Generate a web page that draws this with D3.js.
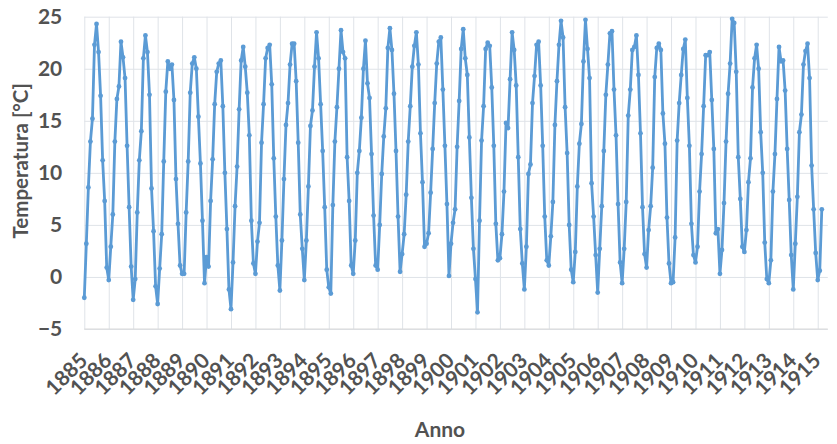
<!DOCTYPE html>
<html>
<head>
<meta charset="utf-8">
<script src="https://cdn.jsdelivr.net/npm/d3@7"></script>
<style>
  body { margin: 0; background: #fff; }
  svg { display: block; }
</style>
</head>
<body>
<div id="chart"></div>
<script>
const WIDTH = 837, HEIGHT = 444;

// monthly mean temperature, Jan 1885 .. Mar 1915
const temperature = [
  -2.0, 3.2, 8.6, 13.0, 15.2, 22.3, 24.3, 21.6, 17.4, 11.2, 7.3, 0.9,     // 1885
  -0.3, 2.9, 6.0, 13.0, 17.1, 18.3, 22.6, 21.1, 19.1, 12.6, 6.7, 1.0,     // 1886
  -2.2, -0.2, 6.2, 11.2, 14.0, 21.0, 23.2, 21.6, 17.5, 8.5, 4.4, -0.9,    // 1887
  -2.6, 0.8, 4.1, 11.1, 17.8, 20.7, 20.0, 20.4, 17.0, 9.4, 5.1, 1.1,      // 1888
  0.3, 0.3, 6.2, 11.1, 17.7, 20.5, 21.1, 20.0, 15.4, 10.9, 5.4, -0.6,     // 1889
  1.9, 1.0, 7.3, 11.3, 16.6, 19.7, 20.5, 20.8, 16.4, 10.0, 4.6, -1.2,     // 1890
  -3.1, 1.4, 6.8, 10.6, 16.1, 20.8, 22.1, 20.2, 17.7, 13.6, 5.4, 1.3,     // 1891
  0.3, 3.4, 5.2, 12.9, 16.6, 21.0, 22.0, 22.3, 18.5, 11.4, 5.8, 1.1,      // 1892
  -1.3, 3.5, 9.4, 14.6, 16.7, 20.4, 22.4, 22.4, 18.8, 12.9, 6.0, 2.7,     // 1893
  -0.3, 3.5, 8.7, 14.5, 16.0, 20.2, 23.5, 21.0, 16.6, 12.1, 6.7, 0.7,     // 1894
  -1.0, -1.6, 6.9, 13.0, 16.3, 20.0, 23.7, 21.6, 21.0, 11.5, 7.3, 1.1,    // 1895
  0.3, 3.5, 10.0, 12.1, 15.3, 20.0, 22.7, 18.6, 17.2, 11.8, 5.9, 1.1,     // 1896
  0.7, 5.0, 9.9, 13.5, 16.2, 22.0, 23.9, 21.8, 17.6, 12.1, 5.8, 0.5,      // 1897
  2.2, 4.1, 7.9, 13.0, 16.4, 20.2, 22.2, 23.5, 20.4, 13.8, 9.1, 2.9,      // 1898
  3.2, 4.2, 8.1, 12.3, 16.7, 20.5, 22.6, 23.0, 18.0, 12.6, 7.0, 0.1,      // 1899
  3.2, 5.2, 6.5, 12.5, 16.9, 21.9, 23.8, 21.0, 19.4, 13.4, 7.6, 2.7,      // 1900
  -0.2, -3.4, 5.4, 13.1, 16.4, 21.9, 22.5, 22.2, 18.2, 12.6, 5.1, 1.6,    // 1901
  1.8, 4.1, 8.2, 14.8, 14.3, 19.0, 23.5, 21.8, 18.4, 11.5, 4.6, 1.3,      // 1902
  -1.2, 2.9, 9.9, 10.8, 16.7, 19.3, 22.3, 22.6, 18.4, 12.6, 5.8, 1.6,     // 1903
  1.1, 3.9, 7.2, 14.6, 18.8, 22.3, 24.6, 23.0, 16.3, 11.9, 5.0, 0.7,      // 1904
  -0.5, 2.4, 8.7, 12.8, 14.7, 20.7, 24.7, 21.9, 19.1, 9.0, 5.8, 2.1,      // 1905
  -1.5, 2.7, 6.8, 12.1, 17.5, 20.4, 23.4, 23.6, 18.0, 13.6, 7.0, 1.4,     // 1906
  -0.6, 2.7, 7.2, 15.5, 18.0, 21.8, 22.1, 23.2, 19.4, 13.8, 6.7, 2.2,     // 1907
  0.9, 4.5, 6.8, 10.5, 19.2, 22.0, 22.4, 21.8, 15.7, 12.8, 5.7, 1.3,      // 1908
  -0.6, -0.5, 3.8, 13.1, 16.7, 19.4, 21.9, 22.8, 17.2, 12.6, 5.1, 2.1,    // 1909
  1.4, 2.9, 8.2, 11.8, 16.4, 21.3, 21.3, 21.6, 17.0, 12.3, 4.2, 4.6,      // 1910
  0.3, 2.6, 7.1, 13.0, 17.6, 20.5, 24.8, 24.4, 19.7, 11.5, 7.5, 2.9,      // 1911
  2.4, 4.5, 9.1, 11.4, 18.2, 21.0, 22.3, 20.0, 13.9, 10.0, 3.3, -0.2,     // 1912
  -0.6, 1.6, 8.2, 11.8, 17.1, 22.1, 20.7, 20.8, 17.9, 12.3, 7.4, 2.1,     // 1913
  -1.2, 3.2, 7.7, 13.9, 15.6, 20.4, 21.7, 22.4, 19.1, 10.7, 6.5, 2.3,     // 1914
  -0.3, 0.6, 6.5                                                          // 1915
];

const yearLabels = ["1885","1886","1887","1888","1889","1890","1891","1892","1893","1894",
  "1895","1896","1897","1898","1899","1900","1901","1902","1903","1904","1905","1906",
  "1907","1908","1909","1910","1911","1912","1913","1914","1915"];

const yTicks = [-5, 0, 5, 10, 15, 20, 25];

const margin = { left: 84.3, right: 15.2, top: 16.7, bottom: 115 };
const TEXT = "#525252", GRID = "#dfe3e8", LINE = "#5b9bd5";
const FONT = "Lato, 'Open Sans', sans-serif";

const svg = d3.select("#chart").append("svg")
  .attr("width", WIDTH)
  .attr("height", HEIGHT);

const x = d3.scaleLinear()
  .domain([0, temperature.length - 1])
  .range([margin.left, WIDTH - margin.right]);

const y = d3.scaleLinear()
  .domain([-5, 25])
  .range([HEIGHT - margin.bottom, margin.top]);

const yearIdx = yearLabels.map((d, i) => i * 12);

// horizontal gridlines + y labels
const yAxis = svg.append("g")
  .attr("transform", `translate(${margin.left},0)`)
  .call(d3.axisLeft(y)
    .tickValues(yTicks)
    .tickSize(-(WIDTH - margin.right - margin.left + 6))
    .tickPadding(22)
    .tickFormat(d3.format("d")));
yAxis.select(".domain").remove();
yAxis.selectAll(".tick line").attr("stroke", GRID).attr("stroke-width", 1);
yAxis.selectAll(".tick text")
  .attr("fill", TEXT)
  .style("font-family", FONT)
  .style("font-size", "21px")
  .style("font-weight", "bold");

// vertical gridlines + year labels
const xAxis = svg.append("g")
  .attr("transform", `translate(0,${y(-5)})`)
  .call(d3.axisBottom(x)
    .tickValues(yearIdx)
    .tickSize(-(y(-5) - y(25)))
    .tickFormat((d, i) => yearLabels[i]));
xAxis.select(".domain").remove();
xAxis.selectAll(".tick line").attr("stroke", GRID).attr("stroke-width", 1);
xAxis.selectAll(".tick text")
  .attr("fill", TEXT)
  .attr("y", 0)
  .attr("dy", 0)
  .attr("text-anchor", "end")
  .attr("transform", "translate(4,33) rotate(-45)")
  .style("font-family", FONT)
  .style("font-size", "21px")
  .style("font-weight", "bold");

// bottom axis line
svg.append("line")
  .attr("x1", margin.left)
  .attr("x2", WIDTH - margin.right + 6)
  .attr("y1", y(-5))
  .attr("y2", y(-5))
  .attr("stroke", "#d9d9d9")
  .attr("stroke-width", 1.2);

// series
svg.append("path")
  .datum(temperature)
  .attr("fill", "none")
  .attr("stroke", LINE)
  .attr("stroke-width", 2.8)
  .attr("stroke-linejoin", "round")
  .attr("d", d3.line().x((d, i) => x(i)).y(d => y(d)));

svg.append("g")
  .selectAll("circle")
  .data(temperature)
  .join("circle")
  .attr("cx", (d, i) => x(i))
  .attr("cy", d => y(d))
  .attr("r", 2.4)
  .attr("fill", LINE);

// axis titles
svg.append("text")
  .attr("transform", `translate(28,${(y(25) + y(-5)) / 2 - 12}) rotate(-90)`)
  .attr("text-anchor", "middle")
  .attr("fill", TEXT)
  .style("font-family", FONT)
  .style("font-size", "20.5px")
  .style("font-weight", "bold")
  .text("Temperatura [°C]");

svg.append("text")
  .attr("x", 440)
  .attr("y", 437)
  .attr("text-anchor", "middle")
  .attr("fill", TEXT)
  .style("font-family", FONT)
  .style("font-size", "21px")
  .style("font-weight", "bold")
  .text("Anno");
</script>
</body>
</html>
